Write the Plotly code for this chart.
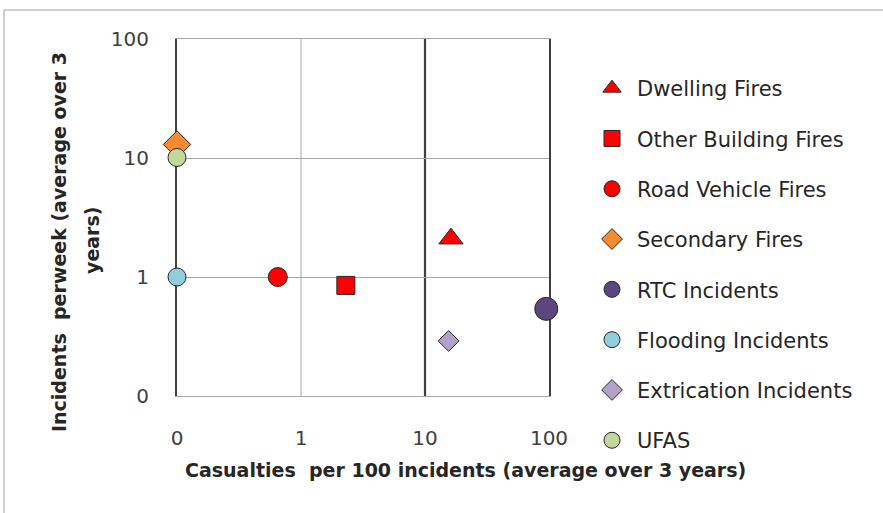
import plotly.graph_objects as go

names = ["Dwelling Fires", "Other Building Fires", "Road Vehicle Fires", "Secondary Fires",
         "RTC Incidents", "Flooding Incidents", "Extrication Incidents", "UFAS"]
casualties = [16.2, 2.3, 0.65, 0.1, 95, 0.1, 15.5, 0.1]
per_week = [2.1, 0.85, 1.0, 13.0, 0.54, 1.0, 0.29, 10.1]
symbols = ["triangle-up", "square", "circle", "diamond", "circle", "circle", "diamond", "circle"]
colors = ["#FF0000", "#FF0000", "#FF0000", "#F58A2E", "#5B4680", "#92CDDC", "#B3A2C7", "#C3D69B"]
sizes = [21, 18, 19, 21, 23, 18, 16, 18]

tick_vals = [0.1, 1, 10, 100]
tick_text = ["0", "1", "10", "100"]
dark_lines = [10]
light_lines = [1]

fig = go.Figure()
for i, n in enumerate(names):
    fig.add_trace(go.Scatter(
        x=[casualties[i]], y=[per_week[i]], mode="markers", name=n,
        legendgroup=n, cliponaxis=False,
        marker=dict(symbol=symbols[i], color=colors[i], size=sizes[i],
                    line=dict(color="#262626", width=1))))

L, R, T, B = 177, 334, 39, 117
W, H = 883, 513
pw, ph = W - L - R, H - T - B


def px(x):
    return (x - L) / pw


def py(y):
    return (H - B - y) / ph


# vertical lines
for xv in light_lines:
    fig.add_shape(type="line", xref="x", yref="paper", x0=xv, x1=xv, y0=0, y1=1,
                  line=dict(color="#A6A6A6", width=1), layer="below")
for xv in dark_lines:
    fig.add_shape(type="line", xref="x", yref="paper", x0=xv, x1=xv, y0=0, y1=1,
                  line=dict(color="#3F3F3F", width=2.2), layer="below")

# outer frame
fig.add_shape(type="rect", xref="paper", yref="paper",
              x0=px(4), x1=px(W + 10), y0=py(H + 10), y1=py(10),
              line=dict(color="#A0A0A0", width=1), fillcolor="rgba(0,0,0,0)")

axis_font = dict(family="DejaVu Sans", size=20, color="#404040")
fig.update_xaxes(type="log", range=[-1, 2], tickvals=tick_vals, ticktext=tick_text,
                 showgrid=False, zeroline=False,
                 showline=True, mirror=True, linecolor="#A6A6A6", linewidth=1,
                 ticks="outside", ticklen=24, tickcolor="rgba(0,0,0,0)",
                 tickfont=axis_font, layer="below traces")
fig.update_yaxes(type="log", range=[-1, 2], tickvals=tick_vals, ticktext=tick_text,
                 showgrid=True, gridcolor="#A6A6A6", gridwidth=1, zeroline=False,
                 showline=True, mirror=True, linecolor="#3F3F3F", linewidth=2,
                 ticks="outside", ticklen=22, tickcolor="rgba(0,0,0,0)",
                 tickfont=axis_font, layer="below traces")

title_font = dict(family="DejaVu Sans", size=19, color="#262626")
fig.add_annotation(xref="paper", yref="paper", x=px(465), y=py(470),
                   xanchor="center", yanchor="middle",
                   text="<b>Casualties  per 100 incidents (average over 3 years)</b>",
                   showarrow=False, font=title_font)
fig.add_annotation(xref="paper", yref="paper", x=px(59), y=py(242),
                   xanchor="center", yanchor="middle",
                   text="<b>Incidents  perweek (average over 3</b>", textangle=-90,
                   showarrow=False, font=title_font)
fig.add_annotation(xref="paper", yref="paper", x=px(92), y=py(241),
                   xanchor="center", yanchor="middle",
                   text="<b>years)</b>", textangle=-90,
                   showarrow=False, font=title_font)

fig.update_layout(
    width=W, height=H, margin=dict(l=L, r=R, t=T, b=B),
    paper_bgcolor="white", plot_bgcolor="white",
    showlegend=True,
    legend=dict(x=px(587), y=py(68), xanchor="left", yanchor="top",
                traceorder="grouped", tracegroupgap=20, itemwidth=40, maxheight=600,
                font=dict(family="DejaVu Sans", size=21, color="#262626"),
                bgcolor="rgba(0,0,0,0)"),
)
fig.write_html("out.html", config={"displayModeBar": False},
               post_script="document.body.style.margin='0px';")
